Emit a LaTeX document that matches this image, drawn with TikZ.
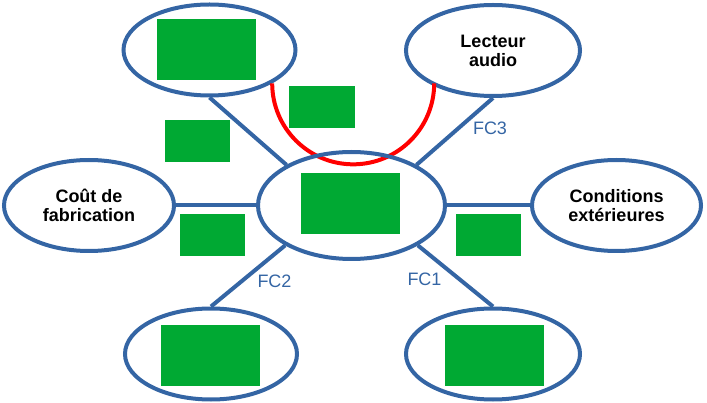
\documentclass[tikz,border=0pt]{standalone}
\usepackage{fontspec}
\setmainfont{Liberation Sans}
\usetikzlibrary{shapes.geometric, positioning}
\definecolor{bleu}{HTML}{3465A4}
\definecolor{vert}{HTML}{00A933}
\definecolor{rouge}{HTML}{FF0000}

\begin{document}
\begin{tikzpicture}[
    x=1pt, y=1pt,
    font=\fontsize{18}{19}\selectfont,
    bulle/.style={draw=bleu, ellipse, line width=4pt, inner sep=0pt, minimum width=172pt, minimum height=91pt, align=center, font=\fontsize{18}{19}\selectfont\bfseries},
    masque/.style={fill=vert, inner sep=0pt, minimum width=65pt, minimum height=42pt},
    grand/.style={masque, minimum width=99pt, minimum height=61pt},
    lien/.style={draw=bleu, line width=4pt},
    fc/.style={text=bleu}
]
\useasboundingbox (0,0) rectangle (707,-403);

\node[bulle] (haut) at (209.5,-50) {};
\node[bulle, minimum width=174pt] (lecteur) at (493,-50.5) {Lecteur\\audio};

% interaction rouge entre les deux bulles du haut
\draw[rouge, line width=4pt] (haut.-28) arc[start angle=180, end angle=360, radius=81];

\node[bulle, minimum width=187pt, minimum height=107pt] (centre) at (351.5,-205.5) {};
\node[bulle, minimum width=170pt, left=80pt of centre] (cout) {Coût de\\fabrication};
\node[bulle, minimum width=169pt, right=83pt of centre] (cond) {Conditions\\extérieures};
\node[bulle] (basg) at (211,-354) {};
\node[bulle, minimum width=174pt] (basd) at (493,-354) {};

\node[grand] (mhaut) at (206.5,-49.5) {};
\node[grand] (mcentre) at (350.5,-204) {};
\node[grand] (mbasg) at (210.5,-355.5) {};
\node[grand] (mbasd) at (494,-355.5) {};
\node[masque] (m1) at (197.5,-141) {};
\node[masque, minimum width=66pt] (m2) at (322,-107) {};
\node[masque] (m3) at (212.5,-235) {};
\node[masque] (m4) at (488.5,-235) {};

\draw[lien] (haut.south) -- (centre.148);
\draw[lien] (lecteur.south) -- (centre.32);
\draw[lien] (cout.east) -- (centre.west);
\draw[lien] (cond.west) -- (centre.east);
\draw[lien] (basg.north) -- (centre.211);
\draw[lien] (basd.north) -- (centre.329);

\node[fc] (fc3) at (490,-128) {FC3};
\node[fc] (fc2) at (274.5,-281.5) {FC2};
\node[fc] (fc1) at (424.5,-279) {FC1};
\end{tikzpicture}
\end{document}
